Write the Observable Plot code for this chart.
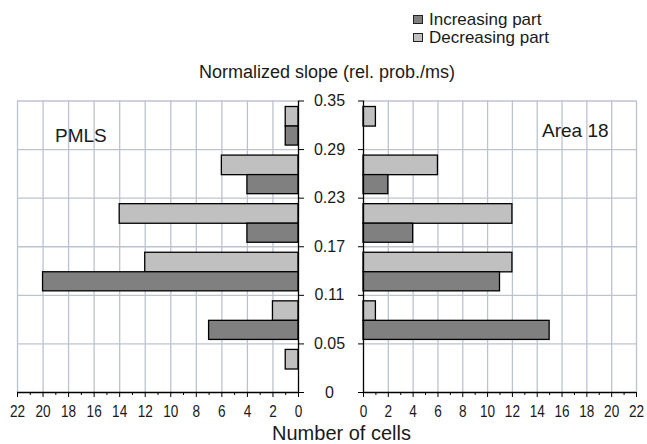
<!DOCTYPE html>
<html><head><meta charset="utf-8">
<script src="https://cdn.jsdelivr.net/npm/d3@7"></script>
<script src="https://cdn.jsdelivr.net/npm/@observablehq/plot@0.6"></script>
<style>
html,body{margin:0;padding:0;background:#fff;overflow:hidden}
#chart{position:relative;width:647px;height:444px;font-family:"Liberation Sans",Arial,sans-serif;color:#1a1a1a}
.abs{position:absolute;white-space:nowrap}
.plot{position:absolute;top:90px}
.sw{display:inline-block;width:8px;height:7px;border:1px solid #222;margin-right:6px;vertical-align:1px}
g[aria-label="x-axis tick label"]{font-family:"Liberation Sans",Arial,sans-serif;font-size:17px}
g[aria-label="y-axis tick label"]{font-family:"Liberation Sans",Arial,sans-serif;font-size:16px}
</style></head>
<body><div id="chart"></div>
<script>
// ---- data ----
const binLabels = ["0", "0.05", "0.11", "0.17", "0.23", "0.29", "0.35"]; // bin edges on the slope axis
const bins = [0, 1, 2, 3, 4, 5]; // 0–0.05, 0.05–0.11, 0.11–0.17, 0.17–0.23, 0.23–0.29, 0.29–0.35
const seriesNames = ["Increasing part", "Decreasing part"];
const pmlsIncreasing   = [0, 7, 20, 4, 4, 1];
const pmlsDecreasing   = [1, 2, 12, 14, 6, 1];
const area18Increasing = [0, 15, 11, 4, 2, 0];
const area18Decreasing = [0, 1, 12, 12, 6, 1];
const xTicks = [0, 2, 4, 6, 8, 10, 12, 14, 16, 18, 20, 22];
const xMinorTicks = [1, 3, 5, 7, 9, 11, 13, 15, 17, 19, 21];
const panelNames = ["PMLS", "Area 18"];
const yTitle = "Normalized slope (rel. prob./ms)";
const xTitle = "Number of cells";

const colors = {"Increasing part": "#808080", "Decreasing part": "#c0c0c0"};
const gridColor = "#bcc3cf";

function rowsFor(inc, dec, series) {
  const vals = series === "Increasing part" ? inc : dec;
  return bins.map(i => ({bin: i, n: vals[i], series})).filter(d => d.n > 0);
}

function panel(inc, dec, left) {
  const width = left ? 350 : 292;
  const marginLeft = left ? 17 : 8;
  const marginRight = left ? 52 : 11;
  const bar = (series, insetTop, insetBottom) => Plot.rectX(rowsFor(inc, dec, series), {
    y1: "bin", y2: d => d.bin + 1, x1: 0, x2: "n",
    fill: colors[series], stroke: "#000", strokeWidth: 1.3, insetTop, insetBottom
  });
  return Plot.plot({
    width, height: 330,
    marginTop: 10.5, marginBottom: 28, marginLeft, marginRight,
    x: {domain: [0, 22], reverse: left, label: null},
    y: {domain: [0, 6], label: null},
    style: {fontFamily: "Liberation Sans, Arial, sans-serif", fontSize: "16px", color: "#1a1a1a", background: "transparent", overflow: "visible"},
    marks: [
      Plot.ruleX(xTicks.filter(d => d > 0), {stroke: gridColor, strokeWidth: 1.3}),
      Plot.ruleY(bins.map(i => i + 1), {stroke: gridColor, strokeWidth: 1.3}),
      bar("Decreasing part", 6, 23),
      bar("Increasing part", 25.5, 4),
      Plot.ruleY([0], {stroke: "#000", strokeWidth: 1.3}),
      Plot.ruleX([0], {stroke: "#000", strokeWidth: 1.3}),
      Plot.axisX({ticks: xTicks, tickSize: 5, tickPadding: 7, stroke: "#000"}),
      Plot.axisX({ticks: xMinorTicks, tickSize: 3, tickFormat: () => "", stroke: "#000"}),
      Plot.axisY({
        ticks: [0, 1, 2, 3, 4, 5, 6], anchor: left ? "right" : "left", tickSize: 5,
        tickPadding: 26, textAnchor: "middle", stroke: "#000",
        tickFormat: left ? (i => binLabels[i]) : (() => "")
      })
    ]
  });
}

const chart = document.getElementById("chart");

const leftPlot = panel(pmlsIncreasing, pmlsDecreasing, true);
leftPlot.classList.add("plot");
leftPlot.style.left = "0px";
chart.appendChild(leftPlot);

const rightPlot = panel(area18Increasing, area18Decreasing, false);
rightPlot.classList.add("plot");
rightPlot.style.left = "355px";
chart.appendChild(rightPlot);

// condensed look of the x tick labels
document.querySelectorAll('g[aria-label="x-axis tick label"] text').forEach(t => {
  const w = t.getComputedTextLength();
  if (w > 0) {
    t.setAttribute("textLength", (w * 0.8).toFixed(2));
    t.setAttribute("lengthAdjust", "spacingAndGlyphs");
  }
});

function addText(txt, css) {
  const d = document.createElement("div");
  d.className = "abs";
  d.textContent = txt;
  Object.assign(d.style, css);
  chart.appendChild(d);
  return d;
}

// legend
const legend = document.createElement("div");
legend.className = "abs";
Object.assign(legend.style, {left: "413px", top: "10.5px", fontSize: "17px", lineHeight: "18px"});
seriesNames.forEach(s => {
  const row = document.createElement("div");
  const sw = document.createElement("span");
  sw.className = "sw";
  sw.style.background = colors[s];
  row.appendChild(sw);
  row.appendChild(document.createTextNode(s));
  legend.appendChild(row);
});
chart.appendChild(legend);

// titles
addText(yTitle, {fontSize: "18px", lineHeight: "18px", top: "62.8px", left: "0px", width: "654px", textAlign: "center"});
addText(xTitle, {fontSize: "20px", lineHeight: "20px", top: "423px", left: "0px", width: "683px", textAlign: "center"});
addText(panelNames[0], {fontSize: "19px", lineHeight: "19px", top: "125.6px", left: "55px"});
addText(panelNames[1], {fontSize: "19px", lineHeight: "19px", top: "120.6px", left: "542px"});
</script>
</body></html>
